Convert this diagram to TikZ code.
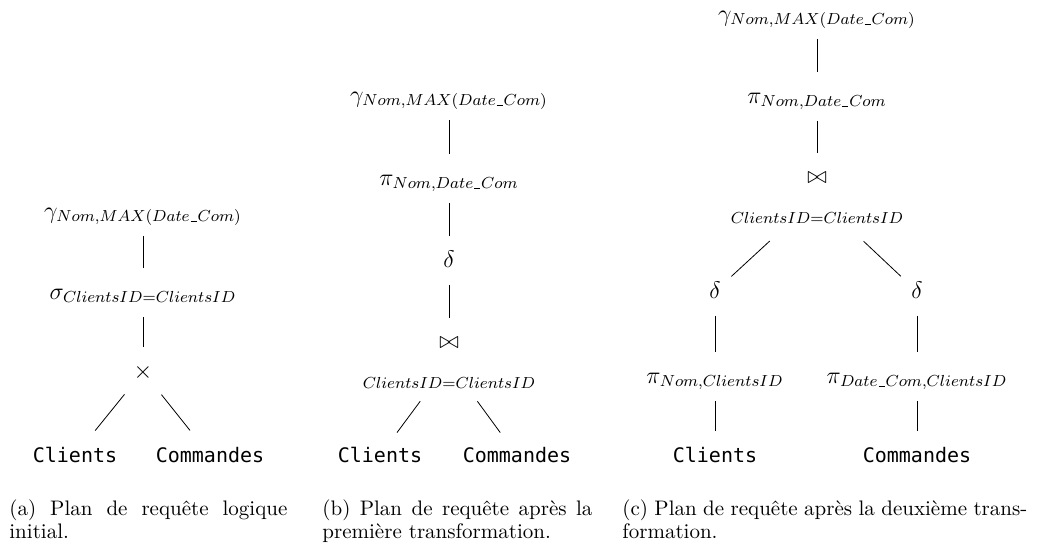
\documentclass[tikz,border=0pt]{standalone}
\usepackage{fontspec}
\setmonofont{DejaVu Sans Mono}
\newcommand\usc{\kern.5pt\vbox{\hrule width 3pt height .35pt}\kern.5pt}
\tikzset{
  op/.style={anchor=base,inner sep=0pt,text height=10.5pt,text depth=4pt,font=\fontsize{12}{14}\selectfont},
  joinop/.style={anchor=base,inner sep=0pt,align=center,font=\fontsize{12}{14}\selectfont},
  rel/.style={op,font=\ttfamily\fontsize{10}{12}\selectfont},
  capt/.style={anchor=north west,inner sep=0pt,align=justify,font=\fontsize{10.5}{11.5}\selectfont},
  branch/.style={shorten <=5pt,shorten >=5pt}
}
\begin{document}
\begin{tikzpicture}[x=0.5pt,y=-0.5pt]
    \useasboundingbox (0,0) rectangle (1042,547);
    % (a) plan initial
    \node[op] (ga) at (143,218) {$\gamma_{Nom,MAX(Date\usc Com)}$};
    \node[op] (sa) at (143,299) {$\sigma_{ClientsID=ClientsID}$};
    \node[op] (xa) at (143,378) {$\times$};
    \node[rel] (cla) at (75,462) {Clients};
    \node[rel] (coa) at (210,462) {Commandes};
    \draw[branch] (ga)--(sa);
    \draw[branch] (sa)--(xa);
    \draw[branch,shorten <=7pt,shorten >=6.5pt] (xa)--(cla);
    \draw[branch,shorten <=7pt,shorten >=6.5pt] (xa)--(coa);
    % (b) premiere transformation
    \node[op] (gb) at (449,102) {$\gamma_{Nom,MAX(Date\usc Com)}$};
    \node[op] (pb) at (449,185) {$\pi_{Nom,Date\usc Com}$};
    \node[op] (db) at (449,267) {$\delta$};
    \node[joinop] (jb) at (449,388) {$\bowtie$\\[6pt]$\scriptstyle ClientsID=ClientsID$};
    \node[rel] (clb) at (380,462) {Clients};
    \node[rel] (cob) at (517,462) {Commandes};
    \draw[branch] (gb)--(pb);
    \draw[branch] (pb)--(db);
    \draw[branch,shorten >=9pt] (db)--(jb);
    \draw[branch,shorten <=8pt] (jb)--(clb);
    \draw[branch,shorten <=8pt] (jb)--(cob);
    % (c) deuxieme transformation
    \node[op] (gc) at (817,21) {$\gamma_{Nom,MAX(Date\usc Com)}$};
    \node[op] (pc) at (817,103) {$\pi_{Nom,Date\usc Com}$};
    \node[joinop] (jc) at (817,223) {$\bowtie$\\[6pt]$\scriptstyle ClientsID=ClientsID$};
    \node[op] (dl) at (715,298) {$\delta$};
    \node[op] (dr) at (917,298) {$\delta$};
    \node[op] (pl) at (715,383) {$\pi_{Nom,ClientsID}$};
    \node[op] (pr) at (917,383) {$\pi_{Date\usc Com,ClientsID}$};
    \node[rel] (clc) at (715,462) {Clients};
    \node[rel] (coc) at (917,462) {Commandes};
    \draw[branch] (gc)--(pc);
    \draw[branch,shorten >=9pt] (pc)--(jc);
    \draw[branch,shorten <=13pt,shorten >=7pt] (jc)--(dl);
    \draw[branch,shorten <=13pt,shorten >=7pt] (jc)--(dr);
    \draw[branch] (dl)--(pl);
    \draw[branch] (dr)--(pr);
    \draw[branch] (pl)--(clc);
    \draw[branch] (pr)--(coc);
    % legendes
    \node[capt,text width=139pt] (capa) at (9,499) {(a) Plan de requête logique\linebreak initial.};
    \node[capt,text width=135pt] (capb) at (322,499) {(b) Plan de requête après la\linebreak première transformation.};
    \node[capt,text width=202.5pt] (capc) at (622,499) {(c) Plan de requête après la deuxième trans-\linebreak formation.};
\end{tikzpicture}
\end{document}
